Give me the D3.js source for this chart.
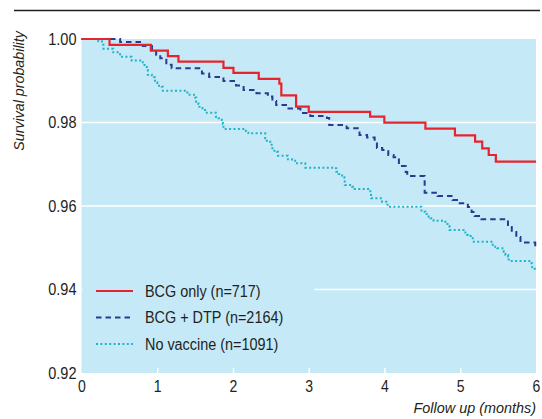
<!DOCTYPE html>
<html>
<head>
<meta charset="utf-8">
<script src="https://cdn.jsdelivr.net/npm/d3@7"></script>
<style>
  body { margin: 0; background: #fff; }
  svg text { font-family: "Liberation Sans", Arial, sans-serif; fill: #231f20; }
</style>
</head>
<body>
<svg id="chart" width="542" height="419"></svg>
<script>
// step times (months) and survival after each step
const bcgTimes = [0.37, 0.915, 1.14, 1.28, 1.874, 2.006, 2.34, 2.612, 2.638, 2.833, 3.0, 3.81, 3.998, 4.54, 4.93, 5.196, 5.29, 5.376, 5.47];
const bcgSurv  = [0.99860, 0.99720, 0.99592, 0.99457, 0.99310, 0.99190, 0.99045, 0.98930, 0.98650, 0.98379, 0.98255, 0.98139, 0.97995, 0.97852, 0.97690, 0.97540, 0.97382, 0.97222, 0.97062];

const dtpTimes = [0.51, 0.81, 0.93, 0.985, 1.04, 1.12, 1.19, 1.59, 1.685, 1.874, 2.04, 2.14, 2.31, 2.46, 2.52, 2.57, 2.70, 2.89, 3.02, 3.24, 3.27, 3.50, 3.67, 3.77, 3.87, 3.90, 3.97, 4.05, 4.12, 4.19, 4.28, 4.30, 4.53, 4.70, 4.90, 4.975, 5.10, 5.15, 5.19, 5.28, 5.63, 5.68, 5.74, 5.795, 5.99];
const dtpSurv  = [0.99928, 0.99832, 0.99760, 0.99624, 0.99538, 0.99384, 0.99298, 0.99174, 0.99090, 0.98994, 0.98886, 0.98778, 0.98699, 0.98623, 0.98515, 0.98419, 0.98335, 0.98228, 0.98156, 0.98108, 0.97940, 0.97861, 0.97701, 0.97641, 0.97557, 0.97389, 0.97341, 0.97222, 0.97166, 0.96958, 0.96814, 0.96719, 0.96320, 0.96240, 0.96144, 0.96065, 0.95976, 0.95856, 0.95760, 0.95681, 0.95497, 0.95377, 0.95257, 0.95126, 0.94994];

const noneTimes = [0.222, 0.27, 0.29, 0.42, 0.509, 0.663, 0.809, 0.862, 0.875, 0.928, 0.971, 1.0, 1.06, 1.073, 1.398, 1.50, 1.513, 1.544, 1.557, 1.597, 1.632, 1.773, 1.808, 1.853, 1.866, 1.874, 2.17, 2.204, 2.425, 2.447, 2.51, 2.52, 2.58, 2.593, 2.725, 2.778, 2.82, 2.954, 3.337, 3.363, 3.394, 3.44, 3.47, 3.475, 3.571, 3.605, 3.813, 3.822, 3.967, 4.024, 4.04, 4.487, 4.54, 4.583, 4.606, 4.649, 4.804, 4.847, 4.857, 5.068, 5.104, 5.165, 5.429, 5.487, 5.574, 5.597, 5.632, 5.64, 5.94, 5.95, 5.984];
const noneSurv  = [0.99945, 0.99863, 0.99768, 0.99681, 0.99576, 0.99485, 0.99377, 0.99257, 0.99145, 0.99083, 0.98963, 0.98882, 0.98858, 0.98762, 0.98666, 0.98597, 0.98498, 0.98443, 0.98347, 0.98299, 0.98235, 0.98139, 0.98101, 0.98060, 0.97964, 0.97844, 0.97796, 0.97741, 0.97622, 0.97541, 0.97420, 0.97325, 0.97301, 0.97205, 0.97118, 0.97085, 0.97022, 0.96917, 0.96903, 0.96822, 0.96766, 0.96687, 0.96639, 0.96503, 0.96463, 0.96407, 0.96304, 0.96184, 0.96103, 0.96065, 0.95983, 0.95864, 0.95808, 0.95744, 0.95705, 0.95648, 0.95569, 0.95521, 0.95425, 0.95305, 0.95281, 0.95145, 0.95025, 0.94987, 0.94906, 0.94826, 0.94786, 0.94683, 0.94627, 0.94531, 0.94491];

const legendLabels = ["BCG only (n=717)", "BCG + DTP (n=2164)", "No vaccine (n=1091)"];
const xTicks = [0, 1, 2, 3, 4, 5, 6];
const yTicks = [0.92, 0.94, 0.96, 0.98, 1.00];

const svg = d3.select("#chart");

const x = d3.scaleLinear().domain([0, 6]).range([81.5, 536]);
const y = d3.scaleLinear().domain([0.92, 1.0]).range([373, 39]);

// squeeze text horizontally to look like a narrow face
function condense(sel, k) {
    sel.each(function() {
        let w = this.getComputedTextLength();
        d3.select(this).attr("textLength", w * k).attr("lengthAdjust", "spacingAndGlyphs");
    });
}

// top rule
svg.append("line")
    .attr("x1", 14).attr("x2", 540)
    .attr("y1", 10.5).attr("y2", 10.5)
    .attr("stroke", "#231f20").attr("stroke-width", 1.5);

// plot background
svg.append("rect")
    .attr("x", x(0)).attr("y", y(1))
    .attr("width", x(6) - x(0)).attr("height", y(0.92) - y(1))
    .attr("fill", "#c6e9f8");

// gridlines
svg.append("g").selectAll("line")
    .data([0.94, 0.96, 0.98])
    .enter().append("line")
    .attr("x1", x(0)).attr("x2", x(6))
    .attr("y1", d => y(d)).attr("y2", d => y(d))
    .attr("stroke", "#fff").attr("stroke-width", 1.6);

// legend background hides the grid behind it
svg.append("rect")
    .attr("x", x(0) + 1).attr("y", 276)
    .attr("width", 232).attr("height", 84)
    .attr("fill", "#c6e9f8");

// axes
let xAxis = svg.append("g")
    .attr("transform", "translate(0," + y(0.92) + ")")
    .call(d3.axisBottom(x).tickValues(xTicks).tickSize(-5).tickPadding(7).tickFormat(d3.format("d")));
xAxis.select(".domain").remove();
xAxis.selectAll("line").attr("stroke", "#fff").attr("stroke-width", 1.5)
    .filter(d => d === 0 || d === 6).remove();
xAxis.selectAll("text").style("font-size", "16.5px").call(condense, 0.85);

let yAxis = svg.append("g")
    .attr("transform", "translate(" + x(0) + ",0)")
    .call(d3.axisLeft(y).tickValues(yTicks).tickSize(0).tickPadding(5).tickFormat(d3.format(".2f")));
yAxis.select(".domain").remove();
yAxis.selectAll("text").style("font-size", "16.5px").call(condense, 0.88);

// axis titles
svg.append("text")
    .attr("transform", "translate(24,91) rotate(-90)")
    .attr("text-anchor", "middle")
    .style("font-size", "15px").style("font-style", "italic")
    .text("Survival probability")
    .call(condense, 0.95);

svg.append("text")
    .attr("x", 536).attr("y", 413)
    .attr("text-anchor", "end")
    .style("font-size", "15px").style("font-style", "italic")
    .text("Follow up (months)")
    .call(condense, 0.96);

// curves
function stepPoints(times, surv) {
    let pts = [[0, 1]];
    for (let i = 0; i < times.length; i++) pts.push([times[i], surv[i]]);
    pts.push([6, surv[surv.length - 1]]);
    return pts;
}

const line = d3.line()
    .x(d => x(d[0]))
    .y(d => y(d[1]))
    .curve(d3.curveStepAfter);

const series = [
    { name: "none", pts: stepPoints(noneTimes, noneSurv), color: "#1fb4c6", width: 2, dash: "2,2.4" },
    { name: "dtp", pts: stepPoints(dtpTimes, dtpSurv), color: "#2b3a8f", width: 2, dash: "5.5,4" },
    { name: "bcg", pts: stepPoints(bcgTimes, bcgSurv), color: "#e8232b", width: 2.2, dash: null }
];

svg.append("g").selectAll("path")
    .data(series)
    .enter().append("path")
    .attr("d", d => line(d.pts))
    .attr("fill", "none")
    .attr("stroke", d => d.color)
    .attr("stroke-width", d => d.width)
    .attr("stroke-dasharray", d => d.dash);

// legend
const legendItems = [series[2], series[1], series[0]];
let legend = svg.append("g").selectAll("g")
    .data(legendItems)
    .enter().append("g")
    .attr("transform", (d, i) => "translate(96," + (291 + i * 26.5) + ")");

legend.append("line")
    .attr("x1", 0).attr("x2", 37)
    .attr("stroke", d => d.color)
    .attr("stroke-width", d => d.width)
    .attr("stroke-dasharray", d => d.dash);

legend.append("text")
    .attr("x", 49).attr("y", 0).attr("dy", "0.35em")
    .style("font-size", "16px")
    .text((d, i) => legendLabels[i])
    .call(condense, 0.9);
</script>
</body>
</html>
